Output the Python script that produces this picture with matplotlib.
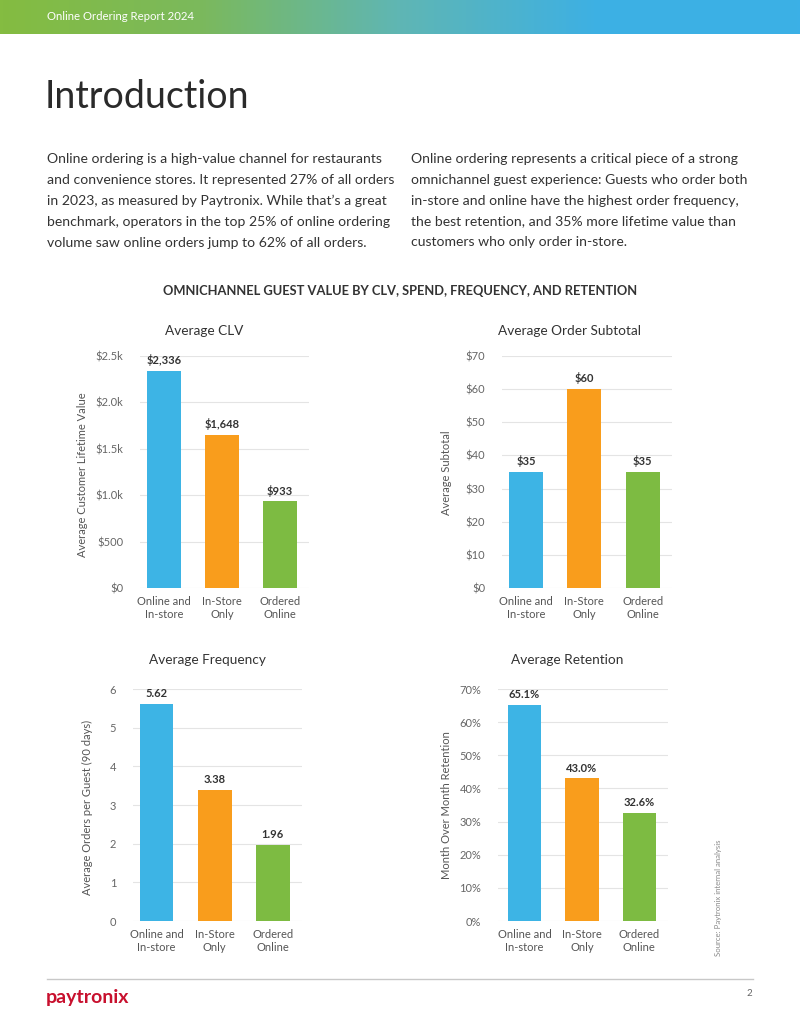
import numpy as np
import matplotlib
matplotlib.use("Agg")
import matplotlib.pyplot as plt

plt.rcParams['font.family'] = ['Lato', 'DejaVu Sans']

W, H = 800, 1035

categories = ["Online and\nIn-store", "In-Store\nOnly", "Ordered\nOnline"]
clv = [2336, 1648, 933]
subtotal = [35, 60, 35]
frequency = [5.62, 3.38, 1.96]
retention = [65.1, 43.0, 32.6]

clv_ticks = [0, 500, 1000, 1500, 2000, 2500]
clv_ticklabels = ["$0", "$500", "$1.0k", "$1.5k", "$2.0k", "$2.5k"]
sub_ticks = [0, 10, 20, 30, 40, 50, 60, 70]
freq_ticks = [0, 1, 2, 3, 4, 5, 6]
ret_ticks = [0, 10, 20, 30, 40, 50, 60, 70]

bar_colors = ["#3db4e5", "#f99d1c", "#7dbb42"]

left_par = ("Online ordering is a high-value channel for restaurants\n"
            "and convenience stores. It represented 27% of all orders\n"
            "in 2023, as measured by Paytronix. While that\u2019s a great\n"
            "benchmark, operators in the top 25% of online ordering\n"
            "volume saw online orders jump to 62% of all orders.")
right_par = ("Online ordering represents a critical piece of a strong\n"
             "omnichannel guest experience: Guests who order both\n"
             "in-store and online have the highest order frequency,\n"
             "the best retention, and 35% more lifetime value than\n"
             "customers who only order in-store.")


def rect(x0, y0, x1, y1):
    return [x0 / W, 1 - y1 / H, (x1 - x0) / W, (y1 - y0) / H]


def px(x, y):
    return x / W, 1 - y / H


fig = plt.figure(figsize=(W / 100, H / 100), dpi=100)
fig.patch.set_facecolor("white")

# header band with gradient
hdr = fig.add_axes(rect(0, 0, W, 34))
grad = np.linspace(0, 1, 256).reshape(1, -1)
cmap = matplotlib.colors.LinearSegmentedColormap.from_list(
    "hdr", ["#84bc41", "#7bb95c", "#5fb6b4", "#3db0e4", "#3bb0e6"])
hdr.imshow(grad, aspect="auto", cmap=cmap, extent=[0, 1, 0, 1])
hdr.axis("off")
fig.text(*px(47, 17), "Online Ordering Report 2024", color="white",
         fontsize=8.2, va="center", ha="left")

fig.text(*px(45, 97), "Introduction", fontsize=27, fontweight="normal",
         color="#2a2a2a", va="center", ha="left")

fig.text(*px(47, 153), left_par, fontsize=10.1, color="#333333", va="top",
         ha="left", linespacing=1.88)
fig.text(*px(411, 153), right_par, fontsize=10.1, color="#333333", va="top",
         ha="left", linespacing=1.88)

fig.text(*px(400, 291), "OMNICHANNEL GUEST VALUE BY CLV, SPEND, FREQUENCY, AND RETENTION",
         fontsize=9.3, fontweight="bold", color="#333333", ha="center", va="center")


def panel(box, values, ticks, ticklabels, ylabel, title, title_xy, ylabel_xy,
          fmt, xlim_left):
    ax = fig.add_axes(rect(*box))
    x = np.arange(len(values))
    bars = ax.bar(x, values, width=0.58, color=bar_colors, zorder=3)
    ax.set_xlim(xlim_left, 2.5)
    ax.set_ylim(ticks[0], ticks[-1])
    ax.set_yticks(ticks)
    ax.set_yticklabels(ticklabels, fontsize=8, color="#666666")
    ax.set_xticks(x)
    ax.set_xticklabels(categories, fontsize=8, color="#555555", linespacing=1.2)
    ax.tick_params(length=0, axis="y", pad=12)
    ax.tick_params(length=0, axis="x", pad=6)
    ax.grid(axis="y", color="#e4e4e4", linewidth=0.8, zorder=0)
    for s in ax.spines.values():
        s.set_visible(False)
    ax.set_axisbelow(True)
    for b, v in zip(bars, values):
        ax.annotate(fmt(v), (b.get_x() + b.get_width() / 2, v),
                    xytext=(0, 3.5), textcoords="offset points",
                    ha="center", va="bottom", fontsize=8, fontweight="bold",
                    color="#333333")
    fig.text(*px(*title_xy), title, fontsize=9.8, color="#333333",
             ha="center", va="center")
    fig.text(*px(*ylabel_xy), ylabel, fontsize=8, color="#555555",
             rotation=90, ha="center", va="center")
    return ax


panel((140, 356, 309, 588), clv, clv_ticks, clv_ticklabels,
      "Average Customer Lifetime Value", "Average CLV", (204, 331), (82, 475),
      lambda v: "${:,.0f}".format(v), -0.41)

panel((502, 356, 672, 588), subtotal, sub_ticks, ["${}".format(t) for t in sub_ticks],
      "Average Subtotal", "Average Order Subtotal", (570, 331), (446, 473),
      lambda v: "${:.0f}".format(v), -0.41)

panel((133, 689, 302, 921), frequency, freq_ticks, [str(t) for t in freq_ticks],
      "Average Orders per Guest (90 days)", "Average Frequency", (207, 660), (87, 807),
      lambda v: "{:.2f}".format(v), -0.405)

panel((498, 689, 668, 921), retention, ret_ticks, ["{}%".format(t) for t in ret_ticks],
      "Month Over Month Retention", "Average Retention", (567, 660), (447, 805),
      lambda v: "{:.1f}%".format(v), -0.46)

fig.text(*px(718, 898), "Source: Paytronix internal analysis", fontsize=5.6,
         color="#888888", rotation=90, ha="center", va="center")

# footer
fig.add_artist(matplotlib.lines.Line2D([47 / W, 753 / W], [1 - 979 / H, 1 - 979 / H],
                                       color="#c8c8c8", linewidth=1))
fig.text(*px(46, 997), "paytronix", fontsize=14, fontweight="bold",
         color="#c8102e", ha="left", va="center")
fig.text(*px(752, 994), "2", fontsize=7, color="#666666", ha="right", va="center")

fig.savefig("out.png", dpi=100, facecolor="white")
